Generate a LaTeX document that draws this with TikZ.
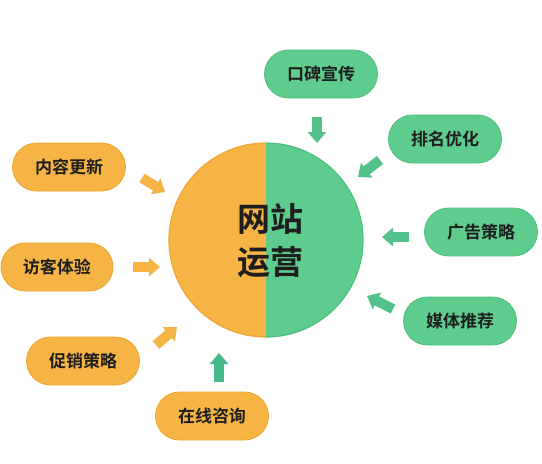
\documentclass[tikz,border=0pt]{standalone}
\usepackage{fontspec}
\newfontfamily\cjk{Noto Sans CJK SC}[BoldFont={* Bold}]
\usetikzlibrary{shapes.misc,arrows.meta}
\definecolor{orgc}{HTML}{F5B444}
\definecolor{orgd}{HTML}{EBA634}
\definecolor{grnc}{HTML}{5ECC8C}
\definecolor{grnd}{HTML}{50BE7F}
\definecolor{grna}{HTML}{52C28A}
\definecolor{grnh}{HTML}{45B98A}
\definecolor{txtc}{HTML}{1E1E1E}
\begin{document}
\begin{tikzpicture}[x=1pt,y=-1pt,
  pill/.style={rounded rectangle, minimum width=113pt, minimum height=48pt,
    inner sep=0pt, line width=0.8pt, font=\cjk\bfseries\fontsize{17}{20}\selectfont, text=txtc},
  opill/.style={pill, fill=orgc, draw=orgd},
  gpill/.style={pill, fill=grnc, draw=grnd},
  barrow/.style={line width=10pt, -{Triangle[width=18pt,length=11pt]}},
  oarrow/.style={barrow, draw=orgc},
  garrow/.style={barrow, draw=grna}]
\useasboundingbox (0,0) rectangle (542,464);
\fill[white] (0,0) rectangle (542,464);
% central circle
\coordinate (c) at (266,240);
\begin{scope}
  \clip (160,130) rectangle (266,350);
  \fill[orgc, draw=orgd, line width=1.2pt] (c) circle[radius=97];
\end{scope}
\begin{scope}
  \clip (266,130) rectangle (372,350);
  \fill[grnc, draw=grnd, line width=1.2pt] (c) circle[radius=97];
\end{scope}
\node[font=\cjk\bfseries\fontsize{33}{43}\selectfont, text=txtc, align=center] (center) at (270,241) {网站\\运营};
% pills
\node[gpill] (A) at (321,74) {口碑宣传};
\node[gpill] (B) at (445,139) {排名优化};
\node[gpill] (C) at (481,232) {广告策略};
\node[gpill] (D) at (460,321) {媒体推荐};
\node[opill] (E) at (69,167) {内容更新};
\node[opill, minimum width=112pt] (F) at (57,267) {访客体验};
\node[opill] (G) at (83,361) {促销策略};
\node[opill] (H) at (212,416) {在线咨询};
% arrow coordinates
\coordinate (a1) at (317,117); \coordinate (a2) at (317,143);
\coordinate (b1) at (380,160); \coordinate (b2) at (358,177);
\coordinate (c1) at (409,237); \coordinate (c2) at (382,237);
\coordinate (d1) at (393,309); \coordinate (d2) at (367,296);
\coordinate (e1) at (142,178); \coordinate (e2) at (165,192);
\coordinate (f1) at (133,267); \coordinate (f2) at (160,267);
\coordinate (g1) at (156,345); \coordinate (g2) at (177,327);
\coordinate (h1) at (219,382); \coordinate (h2) at (219,353);
\draw[garrow] (a1) -- (a2);
\draw[garrow] (b1) -- (b2);
\draw[garrow] (c1) -- (c2);
\draw[garrow] (d1) -- (d2);
\draw[oarrow] (e1) -- (e2);
\draw[oarrow] (f1) -- (f2);
\draw[oarrow] (g1) -- (g2);
\draw[garrow, draw=grnh] (h1) -- (h2);
\end{tikzpicture}
\end{document}
